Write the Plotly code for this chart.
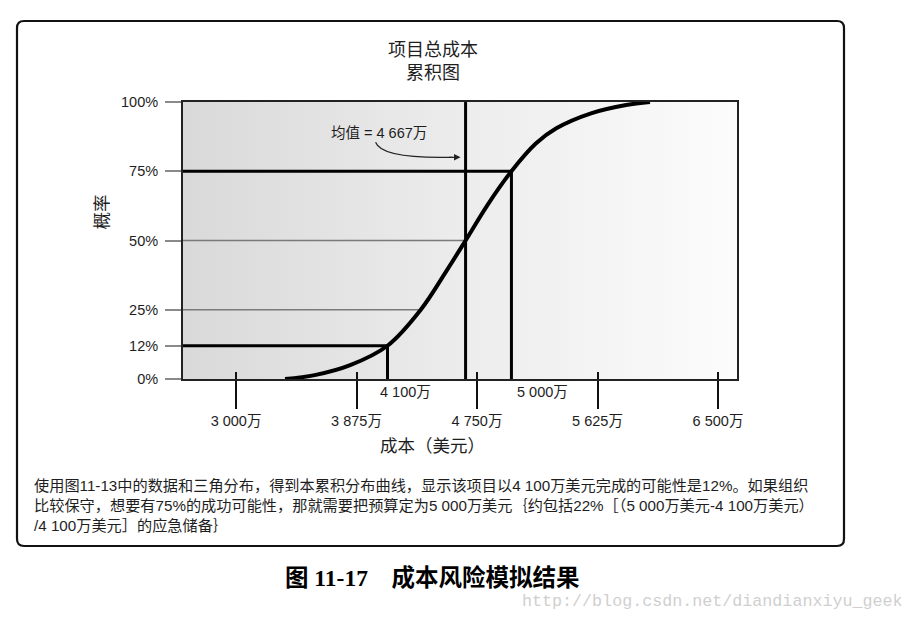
import plotly.graph_objects as go

# ---------------- data ----------------
x_tick_vals = [3000, 3875, 4750, 5625, 6500]
x_tick_text = ["3 000万", "3 875万", "4 750万", "5 625万", "6 500万"]
x_range = [2615, 6638]

y_tick_vals = [0, 12, 25, 50, 75, 100]
y_tick_text = ["0%", "12%", "25%", "50%", "75%", "100%"]

# cumulative curve (cost in 万美元, probability in %)
curve_cost = [3356, 3571, 3829, 4100, 4340, 4533, 4667, 4826, 5000, 5177, 5326, 5578, 5833, 6006]
curve_prob = [0, 1.4, 5, 12, 24.9, 39.4, 50, 62.8, 75, 85, 90.5, 95.9, 98.9, 100]

p12_cost, p12 = 4100, 12
p75_cost, p75 = 5000, 75
mean_cost = 4667
q25_cost, q25 = 4340, 25
q50 = 50

# ---------------- layout helpers ----------------
OFF = 8                       # page body margin
W, H = 913 - OFF, 620 - OFF
ML, MT = 183 - OFF, 102 - OFF
MR = W - (737 - OFF)
MB = H - (379 - OFF)
PW = W - ML - MR
PH = H - MT - MB
PXU = PW / (x_range[1] - x_range[0])  # pixels per data unit


def xp(px):
    return (px - OFF - ML) / PW


def yp(py):
    return (H - MB - (py - OFF)) / PH


def py2y(py):
    return yp(py) * 100


def mx(dpx):
    return mean_cost + dpx / PXU


FONT = "Liberation Sans, Noto Sans CJK SC, sans-serif"
TXT = "#1e1e1e"

fig = go.Figure()

# gradient background of plot box
fig.add_trace(go.Scatter(
    x=[x_range[0], x_range[1], x_range[1], x_range[0], x_range[0]],
    y=[0, 0, 100, 100, 0],
    mode="lines", fill="toself", line=dict(width=0),
    fillgradient=dict(type="horizontal",
                      colorscale=[[0, "#d9d9d9"], [0.5, "#ececec"], [1, "#fcfcfc"]]),
    hoverinfo="skip", showlegend=False))

thin = dict(color="#7a7a7a", width=1.3)
thick = dict(color="#000000", width=3)

# thin guide lines at 25% and 50%
fig.add_trace(go.Scatter(x=[x_range[0], q25_cost], y=[q25, q25], mode="lines",
                         line=thin, hoverinfo="skip", showlegend=False))
fig.add_trace(go.Scatter(x=[x_range[0], mean_cost], y=[q50, q50], mode="lines",
                         line=thin, hoverinfo="skip", showlegend=False))

# thick guide lines
fig.add_trace(go.Scatter(x=[x_range[0], p12_cost, p12_cost], y=[p12, p12, 0], mode="lines",
                         line=thick, hoverinfo="skip", showlegend=False))
fig.add_trace(go.Scatter(x=[x_range[0], p75_cost, p75_cost], y=[p75, p75, 0], mode="lines",
                         line=thick, hoverinfo="skip", showlegend=False))
fig.add_trace(go.Scatter(x=[mean_cost, mean_cost], y=[0, 100], mode="lines",
                         line=thick, hoverinfo="skip", showlegend=False))

# the cumulative curve
fig.add_trace(go.Scatter(x=curve_cost, y=curve_prob, mode="lines",
                         line=dict(color="#000000", width=4, shape="spline", smoothing=1.0),
                         hoverinfo="skip", showlegend=False))

# helper trace for inside tick axis
fig.add_trace(go.Scatter(x=[x_tick_vals[0]], y=[0], xaxis="x2", mode="markers",
                         marker=dict(opacity=0), hoverinfo="skip", showlegend=False))

# curved arrow to mean line
fig.add_shape(type="path", xref="x", yref="y",
              path=f"M {mx(-90)},{py2y(142.3)} Q {mx(-84)},{py2y(159)} {mx(-13)},{py2y(157.3)}",
              line=dict(color="#222", width=1.2))


def ann(**kw):
    d = dict(showarrow=False, xanchor="center", yanchor="middle")
    d.update(kw)
    return d


annotations = [
    dict(x=mx(-5), y=py2y(157.3), xref="x", yref="y", text="", showarrow=True,
         ax=-13, ay=0, arrowhead=2, arrowsize=1.1, arrowwidth=1.2, arrowcolor="#222", standoff=0),
    ann(x=mean_cost, y=py2y(132.7), xref="x", yref="y", xshift=-86.5,
        text="均值 = 4 667万", font=dict(size=14.5, color=TXT)),
    ann(x=p12_cost, y=yp(392), xref="x", yref="paper", xanchor="left", xshift=-10,
        text="4 100万", font=dict(size=14.5, color=TXT)),
    ann(x=p75_cost, y=yp(392), xref="x", yref="paper", xanchor="left", xshift=4,
        text="5 000万", font=dict(size=14.5, color=TXT)),
    ann(x=xp(433), y=yp(61.5), xref="paper", yref="paper",
        text="项目总成本<br>累积图", font=dict(size=18, color=TXT)),
    ann(x=xp(432), y=yp(446), xref="paper", yref="paper",
        text="成本（美元）", font=dict(size=17.5, color=TXT)),
    ann(x=xp(101.5), y=yp(212), xref="paper", yref="paper", textangle=-90,
        text="概率", font=dict(size=17.5, color=TXT)),
    ann(x=xp(32), y=yp(475), xref="paper", yref="paper", xanchor="left", yanchor="top",
        align="left", font=dict(size=15.2, color=TXT),
        text=("使用图11-13中的数据和三角分布，得到本累积分布曲线，显示该项目以4 100万美元完成的可能性是12%。如果组织<br>"
              "比较保守，想要有75%的成功可能性，那就需要把预算定为5 000万美元｛约包括22%［（5 000万美元-4 100万美元）<br>"
              "/4 100万美元］的应急储备｝")),
    ann(x=xp(431.5), y=yp(578), xref="paper", yref="paper",
        text="<b>图 11-17　成本风险模拟结果</b>",
        font=dict(size=23.5, color="#000", family="Liberation Serif, Noto Sans CJK SC, serif")),
    ann(x=xp(520), y=yp(601), xref="paper", yref="paper", xanchor="left",
        text="http://blog.csdn.net/diandianxiyu_geek",
        font=dict(size=16.7, color="#cfcfcf", family="Liberation Mono, monospace")),
]

# rounded outer frame
x0, x1 = xp(17), xp(844)
yt, yb = yp(21), yp(546)
rx, ry = 7 / PW, 7 / PH
frame = (f"M {x0+rx},{yt} L {x1-rx},{yt} Q {x1},{yt} {x1},{yt-ry} L {x1},{yb+ry} "
         f"Q {x1},{yb} {x1-rx},{yb} L {x0+rx},{yb} Q {x0},{yb} {x0},{yb+ry} "
         f"L {x0},{yt-ry} Q {x0},{yt} {x0+rx},{yt} Z")
fig.add_shape(type="path", xref="paper", yref="paper", path=frame,
              line=dict(color="#111", width=2.2), layer="below")

fig.update_layout(
    width=W, height=H, autosize=False,
    margin=dict(l=ML, r=MR, t=MT, b=MB, pad=0),
    paper_bgcolor="white", plot_bgcolor="white",
    font=dict(family=FONT, color=TXT),
    showlegend=False,
    annotations=annotations,
    xaxis=dict(range=x_range, tickvals=x_tick_vals, ticktext=x_tick_text,
               ticks="outside", ticklen=28, tickwidth=1.5, tickcolor="#111",
               showline=True, linecolor="#222", linewidth=2, mirror=True,
               showgrid=False, zeroline=False, tickfont=dict(size=14.5, color=TXT),
               fixedrange=True),
    xaxis2=dict(range=x_range, overlaying="x", anchor="y", side="bottom",
                tickvals=x_tick_vals, ticks="inside", ticklen=7, tickwidth=1.5,
                tickcolor="#111", showticklabels=False, showline=False,
                showgrid=False, zeroline=False, fixedrange=True),
    yaxis=dict(range=[0, 100], tickvals=y_tick_vals, ticktext=y_tick_text,
               ticks="outside", ticklen=16, tickwidth=1.5, tickcolor="#8a8a8a",
               showline=True, linecolor="#222", linewidth=2, mirror=True,
               showgrid=False, zeroline=False, tickfont=dict(size=14.5, color=TXT),
               ticklabelstandoff=4, fixedrange=True),
)

fig.write_html("out.html")
